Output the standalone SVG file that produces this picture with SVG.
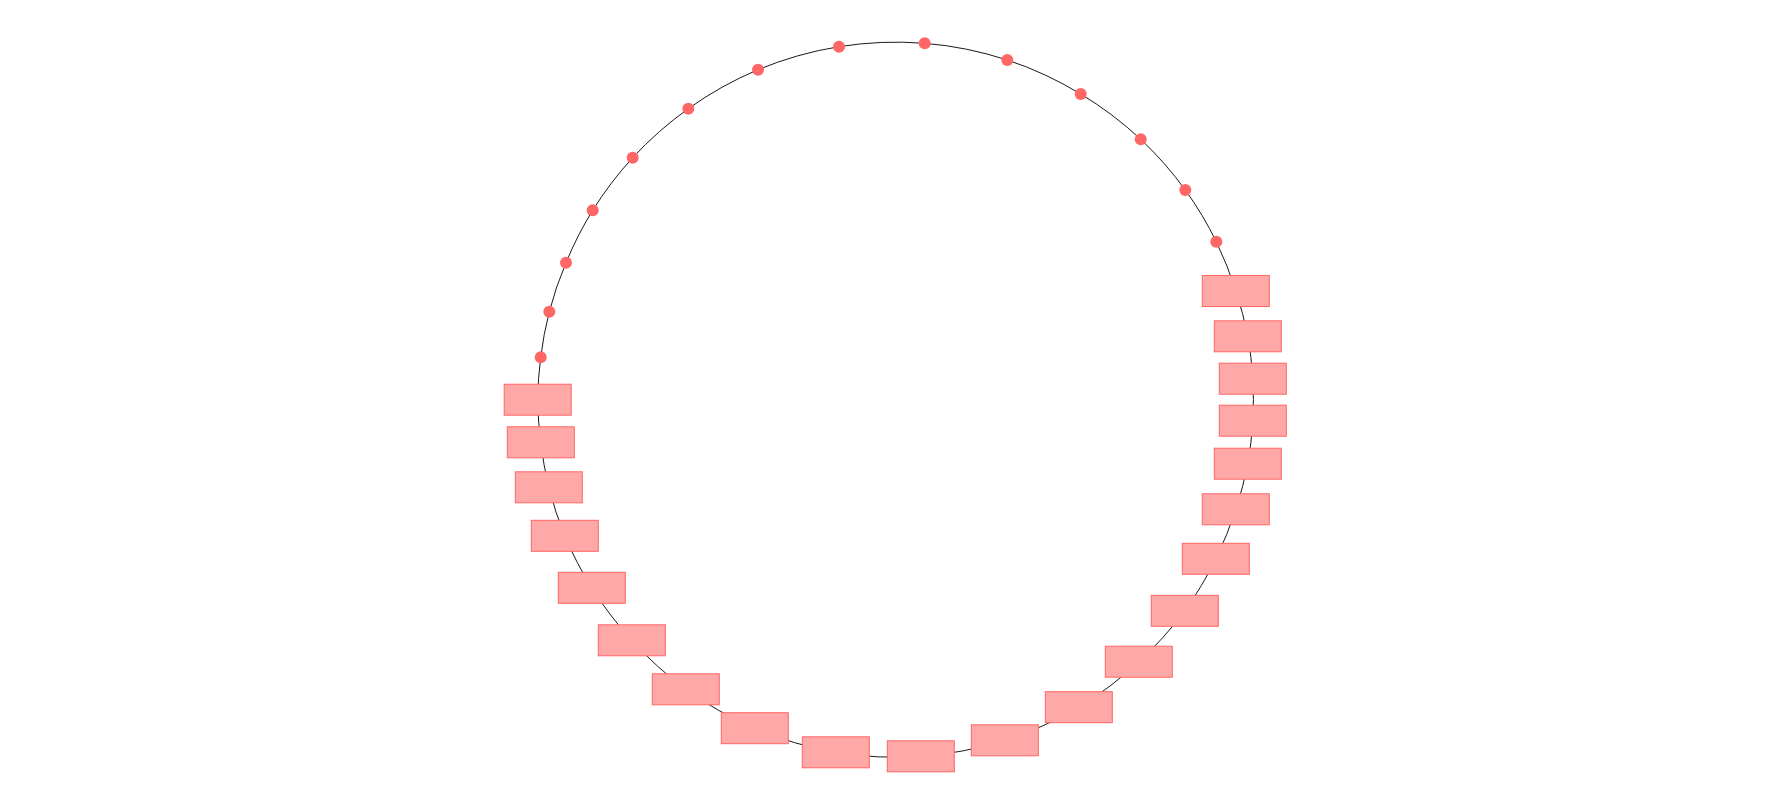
<svg xmlns="http://www.w3.org/2000/svg" width="1792" height="800" viewBox="0 0 1792 800">
<style>
.e{stroke:#1a1a1a;stroke-width:1;fill:none}
.d{fill:#ff6666}
.r{fill:#ffa8a8;stroke:#ff6666;stroke-width:1}
</style>
<rect width="1792" height="800" fill="#fff"/>
<g id="edges">
<path class="e" d="M924.7 43.3A357.5 357.5 0 0 1 1007.3 60"/>
<path class="e" d="M1007.3 60A357.5 357.5 0 0 1 1080.7 94"/>
<path class="e" d="M1080.7 94A357.5 357.5 0 0 1 1140.7 139.3"/>
<path class="e" d="M1140.7 139.3A357.5 357.5 0 0 1 1185.3 190"/>
<path class="e" d="M1185.3 190A357.5 357.5 0 0 1 1216.3 241.7"/>
<path class="e" d="M1216.3 241.7A357.5 357.5 0 0 1 1235.8 291"/>
<path class="e" d="M1235.8 291A357.5 357.5 0 0 1 1247.8 336.3"/>
<path class="e" d="M1247.8 336.3A357.5 357.5 0 0 1 1252.8 378.7"/>
<path class="e" d="M1252.8 378.7A357.5 357.5 0 0 1 1252.8 420.7"/>
<path class="e" d="M1252.8 420.7A357.5 357.5 0 0 1 1247.8 463.7"/>
<path class="e" d="M1247.8 463.7A357.5 357.5 0 0 1 1235.8 509.3"/>
<path class="e" d="M1235.8 509.3A357.5 357.5 0 0 1 1215.8 558.8"/>
<path class="e" d="M1215.8 558.8A357.5 357.5 0 0 1 1184.8 610.8"/>
<path class="e" d="M1184.8 610.8A357.5 357.5 0 0 1 1138.8 661.7"/>
<path class="e" d="M1138.8 661.7A357.5 357.5 0 0 1 1078.8 707.2"/>
<path class="e" d="M1078.8 707.2A357.5 357.5 0 0 1 1004.8 740.3"/>
<path class="e" d="M1004.8 740.3A357.5 357.5 0 0 1 920.8 756.3"/>
<path class="e" d="M920.8 756.3A357.5 357.5 0 0 1 835.8 752.3"/>
<path class="e" d="M835.8 752.3A357.5 357.5 0 0 1 754.8 728.2"/>
<path class="e" d="M754.8 728.2A357.5 357.5 0 0 1 685.8 689.3"/>
<path class="e" d="M685.8 689.3A357.5 357.5 0 0 1 631.8 640.3"/>
<path class="e" d="M631.8 640.3A357.5 357.5 0 0 1 591.8 587.8"/>
<path class="e" d="M591.8 587.8A357.5 357.5 0 0 1 564.8 535.8"/>
<path class="e" d="M564.8 535.8A357.5 357.5 0 0 1 548.8 487.3"/>
<path class="e" d="M548.8 487.3A357.5 357.5 0 0 1 540.8 442.3"/>
<path class="e" d="M540.8 442.3A357.5 357.5 0 0 1 537.7 399.7"/>
<path class="e" d="M537.7 399.7A357.5 357.5 0 0 1 540.7 357.3"/>
<path class="e" d="M540.7 357.3A357.5 357.5 0 0 1 549.3 311.7"/>
<path class="e" d="M549.3 311.7A357.5 357.5 0 0 1 566 262.7"/>
<path class="e" d="M566 262.7A357.5 357.5 0 0 1 592.7 210.3"/>
<path class="e" d="M592.7 210.3A357.5 357.5 0 0 1 632.7 157.7"/>
<path class="e" d="M632.7 157.7A357.5 357.5 0 0 1 688.3 108.7"/>
<path class="e" d="M688.3 108.7A357.5 357.5 0 0 1 758 69.7"/>
<path class="e" d="M758 69.7A357.5 357.5 0 0 1 839 46.7"/>
<path class="e" d="M839 46.7A357.5 357.5 0 0 1 924.7 43.3"/>
</g>
<g id="n1"><circle class="d" cx="924.7" cy="43.3" r="6"/></g>
<g id="n2"><circle class="d" cx="1007.3" cy="60" r="6"/></g>
<g id="n3"><circle class="d" cx="1080.7" cy="94" r="6"/></g>
<g id="n4"><circle class="d" cx="1140.7" cy="139.3" r="6"/></g>
<g id="n5"><circle class="d" cx="1185.3" cy="190" r="6"/></g>
<g id="n6"><circle class="d" cx="1216.3" cy="241.7" r="6"/></g>
<g id="n7"><rect class="r" x="1202.3" y="275.5" width="67" height="31"/></g>
<g id="n8"><rect class="r" x="1214.3" y="320.8" width="67" height="31"/></g>
<g id="n9"><rect class="r" x="1219.3" y="363.2" width="67" height="31"/></g>
<g id="n10"><rect class="r" x="1219.3" y="405.2" width="67" height="31"/></g>
<g id="n11"><rect class="r" x="1214.3" y="448.2" width="67" height="31"/></g>
<g id="n12"><rect class="r" x="1202.3" y="493.8" width="67" height="31"/></g>
<g id="n13"><rect class="r" x="1182.3" y="543.3" width="67" height="31"/></g>
<g id="n14"><rect class="r" x="1151.3" y="595.3" width="67" height="31"/></g>
<g id="n15"><rect class="r" x="1105.3" y="646.2" width="67" height="31"/></g>
<g id="n16"><rect class="r" x="1045.3" y="691.7" width="67" height="31"/></g>
<g id="n17"><rect class="r" x="971.3" y="724.8" width="67" height="31"/></g>
<g id="n18"><rect class="r" x="887.3" y="740.8" width="67" height="31"/></g>
<g id="n19"><rect class="r" x="802.3" y="736.8" width="67" height="31"/></g>
<g id="n20"><rect class="r" x="721.3" y="712.7" width="67" height="31"/></g>
<g id="n21"><rect class="r" x="652.3" y="673.8" width="67" height="31"/></g>
<g id="n22"><rect class="r" x="598.3" y="624.8" width="67" height="31"/></g>
<g id="n23"><rect class="r" x="558.3" y="572.3" width="67" height="31"/></g>
<g id="n24"><rect class="r" x="531.3" y="520.3" width="67" height="31"/></g>
<g id="n25"><rect class="r" x="515.3" y="471.8" width="67" height="31"/></g>
<g id="n26"><rect class="r" x="507.3" y="426.8" width="67" height="31"/></g>
<g id="n27"><rect class="r" x="504.2" y="384.2" width="67" height="31"/></g>
<g id="n28"><circle class="d" cx="540.7" cy="357.3" r="6"/></g>
<g id="n29"><circle class="d" cx="549.3" cy="311.7" r="6"/></g>
<g id="n30"><circle class="d" cx="566" cy="262.7" r="6"/></g>
<g id="n31"><circle class="d" cx="592.7" cy="210.3" r="6"/></g>
<g id="n32"><circle class="d" cx="632.7" cy="157.7" r="6"/></g>
<g id="n33"><circle class="d" cx="688.3" cy="108.7" r="6"/></g>
<g id="n34"><circle class="d" cx="758" cy="69.7" r="6"/></g>
<g id="n35"><circle class="d" cx="839" cy="46.7" r="6"/></g>
</svg>
